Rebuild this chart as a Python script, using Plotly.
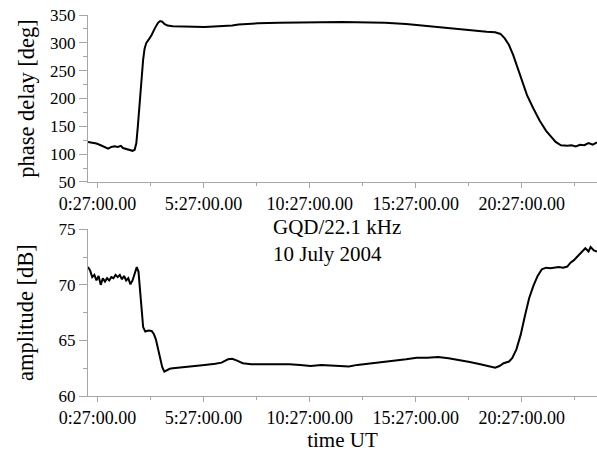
import plotly.graph_objects as go

# ---- data (hours UT) ----
phase_hours = [0.0, 0.2, 0.4, 0.6, 0.8, 0.95, 1.1, 1.25, 1.4, 1.55, 1.65, 1.8, 1.95, 2.1, 2.2,
               2.28, 2.35, 2.45, 2.53, 2.6, 2.67, 2.75, 2.9, 3.0, 3.15, 3.3, 3.4, 3.5, 3.6, 3.75,
               4.0, 4.5, 5.0, 5.5, 6.0, 6.5, 6.8, 7.1, 7.5, 8.0, 9.0, 10.0, 11.0, 12.0, 13.0,
               14.0, 15.0, 15.5, 16.0, 17.0, 18.0, 18.8, 19.2, 19.45, 19.65, 19.85, 20.05, 20.25,
               20.45, 20.7, 21.0, 21.3, 21.6, 21.85, 22.05, 22.3, 22.6, 22.8, 23.0, 23.2, 23.4,
               23.6, 23.8, 24.0]
phase_deg = [122, 121, 119, 116, 112, 110, 113, 114, 113, 115, 111, 109, 107, 106, 108,
             120, 150, 200, 240, 270, 290, 300, 308, 314, 326, 336, 339, 338, 334, 331,
             330, 330, 329, 328.5, 329, 330, 331, 333, 334, 335, 336, 337, 337, 337.5, 337,
             336, 334, 332, 330, 326, 322, 320, 319, 316, 308, 296, 278, 256,
             234, 206, 182, 160, 142, 130, 122, 116, 115, 116, 114, 117, 116,
             120, 117, 121]

amp_hours = [0.0, 0.1, 0.2, 0.3, 0.4, 0.5, 0.6, 0.7, 0.8, 0.9, 1.0, 1.1, 1.2, 1.3, 1.4, 1.5,
             1.6, 1.7, 1.8, 1.9, 2.0, 2.1, 2.2, 2.3, 2.38, 2.45, 2.53, 2.6, 2.7, 2.85, 3.0,
             3.1, 3.2, 3.3, 3.4, 3.5, 3.6, 3.7, 3.85, 4.0, 4.3, 4.7, 5.0, 5.5, 6.0, 6.3, 6.6,
             6.8, 7.0, 7.3, 7.7, 8.0, 8.5, 9.0, 9.5, 10.0, 10.5, 11.0, 11.5, 12.0, 12.3, 12.7,
             13.5, 14.5, 15.0, 15.5, 16.0, 16.5, 17.0, 17.5, 18.0, 18.5, 19.0, 19.2, 19.4,
             19.6, 19.85, 20.0, 20.2, 20.4, 20.6, 20.8, 21.0, 21.2, 21.4, 21.6, 21.8, 22.0,
             22.2, 22.4, 22.6, 22.75, 22.9, 23.1, 23.3, 23.45, 23.6, 23.7, 23.85, 24.0]
amp_db = [71.6, 71.3, 70.7, 70.9, 70.4, 70.8, 70.0, 70.6, 70.3, 70.6, 70.4, 70.7, 70.6, 70.9,
          70.7, 70.9, 70.5, 70.8, 70.4, 70.6, 70.05, 70.4, 71.0, 71.6, 71.2, 69.5, 67.5, 66.2,
          65.8, 65.9, 65.85, 65.6, 65.1, 64.2, 63.3, 62.6, 62.2, 62.3, 62.45, 62.5, 62.55,
          62.6, 62.7, 62.8, 62.9, 63.0, 63.3, 63.35, 63.2, 62.95, 62.85, 62.85, 62.9, 62.9,
          62.85, 62.8, 62.7, 62.8, 62.75, 62.65, 62.65, 62.8, 63.0, 63.2, 63.3, 63.45, 63.45,
          63.5, 63.4, 63.25, 63.05, 62.85, 62.6, 62.55, 62.7, 62.95, 63.1, 63.4, 64.2, 65.5,
          67.2, 68.8, 69.9, 70.8, 71.4, 71.55, 71.5, 71.55, 71.6, 71.55, 71.65, 72.0, 72.2,
          72.6, 73.0, 73.3, 73.0, 73.4, 73.1, 73.0]

tick_hours = [0.45, 5.45, 10.45, 15.45, 20.45]
tick_labels = ["0:27:00.00", "5:27:00.00", "10:27:00.00", "15:27:00.00", "20:27:00.00"]

annotation_text = "GQD/22.1 kHz<br>10 July 2004"

FONT = "Liberation Serif"
AX = "#a6a6a6"

fig = go.Figure()
fig.add_trace(go.Scatter(x=phase_hours, y=phase_deg, mode="lines",
                         line=dict(color="black", width=2), xaxis="x", yaxis="y",
                         showlegend=False))
fig.add_trace(go.Scatter(x=amp_hours, y=amp_db, mode="lines",
                         line=dict(color="black", width=2), xaxis="x2", yaxis="y2",
                         showlegend=False))

xcommon = dict(range=[0, 24], showgrid=False, zeroline=False, showline=True,
               linecolor=AX, linewidth=1, ticks="outside", ticklen=5, tickcolor=AX,
               tickmode="array", tickvals=tick_hours, ticktext=tick_labels,
               tickfont=dict(family=FONT, size=18, color="black"),
               minor=dict(ticks="outside", ticklen=3, tickcolor=AX, tick0=0.45, dtick=2.5,
                          showgrid=False))

fig.update_layout(
    width=597, height=455,
    margin=dict(l=88, r=0, t=15, b=59),
    paper_bgcolor="white", plot_bgcolor="white",
    font=dict(family=FONT, color="black"),
    xaxis=dict(domain=[0, 1], anchor="y", **xcommon),
    xaxis2=dict(domain=[0, 1], anchor="y2",
                title=dict(text="time UT", font=dict(family=FONT, size=21), standoff=5),
                **xcommon),
    yaxis=dict(domain=[0.5617, 1], anchor="x", range=[50, 350], dtick=50, tick0=50,
               showgrid=False, zeroline=False, showline=True, linecolor=AX, linewidth=1,
               ticks="outside", ticklen=8, tickcolor=AX,
               tickfont=dict(family=FONT, size=17, color="black"),
               minor=dict(ticks="outside", ticklen=4, tickcolor=AX, dtick=25, showgrid=False),
               title=dict(text="phase delay [deg]", font=dict(family=FONT, size=22.5), standoff=9)),
    yaxis2=dict(domain=[0, 0.4375], anchor="x2", range=[60, 75], dtick=5, tick0=60,
                showgrid=False, zeroline=False, showline=True, linecolor=AX, linewidth=1,
                ticks="outside", ticklen=8, tickcolor=AX,
                tickfont=dict(family=FONT, size=17, color="black"),
                minor=dict(ticks="outside", ticklen=4, tickcolor=AX, dtick=2.5, showgrid=False),
                title=dict(text="amplitude [dB]", font=dict(family=FONT, size=22.5), standoff=18)),
    annotations=[dict(text=annotation_text, xref="paper", yref="paper", x=0.3595, y=0.407,
                      xanchor="left", yanchor="middle", align="left", showarrow=False,
                      font=dict(family=FONT, size=21, color="black"))],
)

fig.write_html("out.html")
